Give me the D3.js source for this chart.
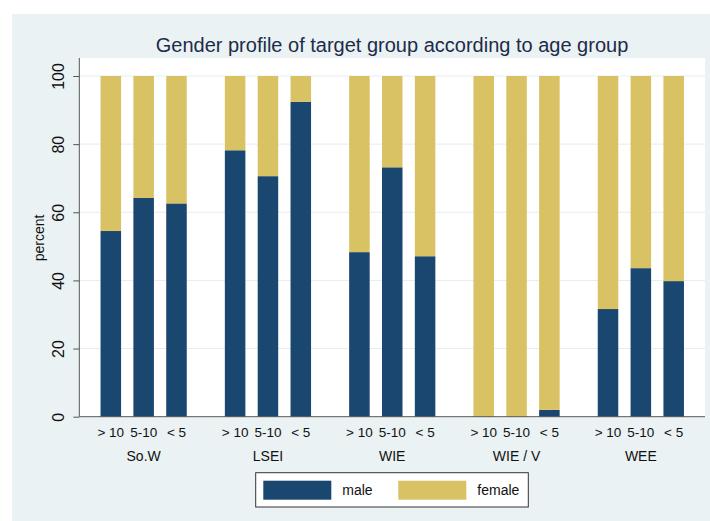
<!DOCTYPE html>
<html>
<head>
<meta charset="utf-8">
<script src="https://cdn.jsdelivr.net/npm/d3@7"></script>
<style>
    body { margin: 0; background: #ffffff; }
    text { font-family: "Liberation Sans", Arial, sans-serif; }
</style>
</head>
<body>
<script>
// categories
var groups = ["So.W", "LSEI", "WIE", "WIE / V", "WEE"];
var ages = ["> 10", "5-10", "< 5"];
var series = ["male", "female"];

// percent values, one row per group, ages in order
var male = [
    [54.5, 64.2, 62.6],
    [78.2, 70.6, 92.4],
    [48.3, 73.2, 47.1],
    [0, 0, 2.0],
    [31.6, 43.6, 39.8]
];
var female = [
    [45.5, 35.8, 37.4],
    [21.8, 29.4, 7.6],
    [51.7, 26.8, 52.9],
    [100, 100, 98.0],
    [68.4, 56.4, 60.2]
];
var yTicks = [0, 20, 40, 60, 80, 100];

var width = 710, height = 521;
var plot = { left: 79.3, right: 705, top: 58, bottom: 416.7 };
var colors = { male: "#1a476f", female: "#d9c264" };

var svg = d3.select("body").append("svg")
    .attr("width", width)
    .attr("height", height);

// outer graph region
svg.append("rect")
    .attr("x", 12).attr("y", 14)
    .attr("width", width - 12).attr("height", height - 14)
    .attr("fill", "#eaf2f3");

svg.append("rect")
    .attr("x", plot.left).attr("y", plot.top)
    .attr("width", plot.right - plot.left).attr("height", plot.bottom - plot.top)
    .attr("fill", "#ffffff");

// scales
var y = d3.scaleLinear().domain([0, 100]).range([plot.bottom, 76]);

var xGroup = d3.scaleBand()
    .domain(groups)
    .range([81.5, 703])
    .padding(0);

var xAge = d3.scaleBand()
    .domain(ages)
    .range([0, xGroup.bandwidth()])
    .paddingInner(0.375)
    .paddingOuter(0.58);

// grid
svg.append("g").selectAll("line")
    .data(yTicks.filter(function (d) { return d > 0; }))
    .enter().append("line")
    .attr("x1", plot.left).attr("x2", plot.right)
    .attr("y1", function (d) { return y(d); })
    .attr("y2", function (d) { return y(d); })
    .attr("stroke", "#e4edf1")
    .attr("stroke-width", 1);

// stack the rows
var rows = [];
groups.forEach(function (g, gi) {
    ages.forEach(function (a, ai) {
        rows.push({ group: g, age: a, male: male[gi][ai], female: female[gi][ai] });
    });
});
var stacked = d3.stack().keys(series)(rows);

svg.append("g").selectAll("g")
    .data(stacked)
    .enter().append("g")
    .attr("fill", function (d) { return colors[d.key]; })
    .selectAll("rect")
    .data(function (d) { return d; })
    .enter().append("rect")
    .attr("x", function (d) { return xGroup(d.data.group) + xAge(d.data.age); })
    .attr("width", xAge.bandwidth())
    .attr("y", function (d) { return y(d[1]); })
    .attr("height", function (d) { return y(d[0]) - y(d[1]); });

// y axis
var yAxis = d3.axisLeft(y)
    .tickValues(yTicks)
    .tickSize(6)
    .tickSizeOuter(0);

var gy = svg.append("g")
    .attr("transform", "translate(" + plot.left + ",0)")
    .call(yAxis);
gy.select(".domain").remove();
gy.selectAll(".tick line").attr("stroke", "#555555");
gy.selectAll(".tick text")
    .attr("transform", "rotate(-90)")
    .attr("x", 0)
    .attr("y", -15.3)
    .attr("dy", 0)
    .attr("text-anchor", "middle")
    .attr("fill", "#111111")
    .style("font-size", "16px")
    .style("font-family", "'Liberation Sans', Arial, sans-serif");

svg.append("line")
    .attr("x1", plot.left).attr("x2", plot.left)
    .attr("y1", plot.top).attr("y2", plot.bottom)
    .attr("stroke", "#555555");
svg.append("line")
    .attr("x1", plot.left).attr("x2", plot.right)
    .attr("y1", plot.bottom).attr("y2", plot.bottom)
    .attr("stroke", "#555555");

svg.append("text")
    .attr("transform", "translate(44,238) rotate(-90)")
    .attr("text-anchor", "middle")
    .style("font-size", "14px")
    .attr("fill", "#111111")
    .text("percent");

// x labels
svg.append("g").selectAll("text")
    .data(rows)
    .enter().append("text")
    .attr("x", function (d) { return xGroup(d.group) + xAge(d.age) + xAge.bandwidth() / 2; })
    .attr("y", 437)
    .attr("text-anchor", "middle")
    .style("font-size", "13.5px")
    .attr("fill", "#111111")
    .text(function (d) { return d.age; });

svg.append("g").selectAll("text")
    .data(groups)
    .enter().append("text")
    .attr("x", function (d) { return xGroup(d) + xGroup.bandwidth() / 2; })
    .attr("y", 461)
    .attr("text-anchor", "middle")
    .style("font-size", "14px")
    .attr("fill", "#111111")
    .text(function (d) { return d; });

// title
svg.append("text")
    .attr("x", 392)
    .attr("y", 52)
    .attr("text-anchor", "middle")
    .style("font-size", "20px")
    .attr("fill", "#1e2b4a")
    .text("Gender profile of target group according to age group");

// legend
var legend = svg.append("g");
legend.append("rect")
    .attr("x", 255.7).attr("y", 472.7)
    .attr("width", 272.6).attr("height", 34.3)
    .attr("fill", "#ffffff")
    .attr("stroke", "#333333");

var items = legend.selectAll("g.item")
    .data(series)
    .enter().append("g")
    .attr("class", "item")
    .attr("transform", function (d, i) { return "translate(" + (263.3 + i * 135) + ",0)"; });
items.append("rect")
    .attr("x", 0).attr("y", 480.7)
    .attr("width", 68).attr("height", 19)
    .attr("fill", function (d) { return colors[d]; });
items.append("text")
    .attr("x", 79).attr("y", 495)
    .style("font-size", "14px")
    .attr("fill", "#111111")
    .text(function (d) { return d; });
</script>
</body>
</html>
